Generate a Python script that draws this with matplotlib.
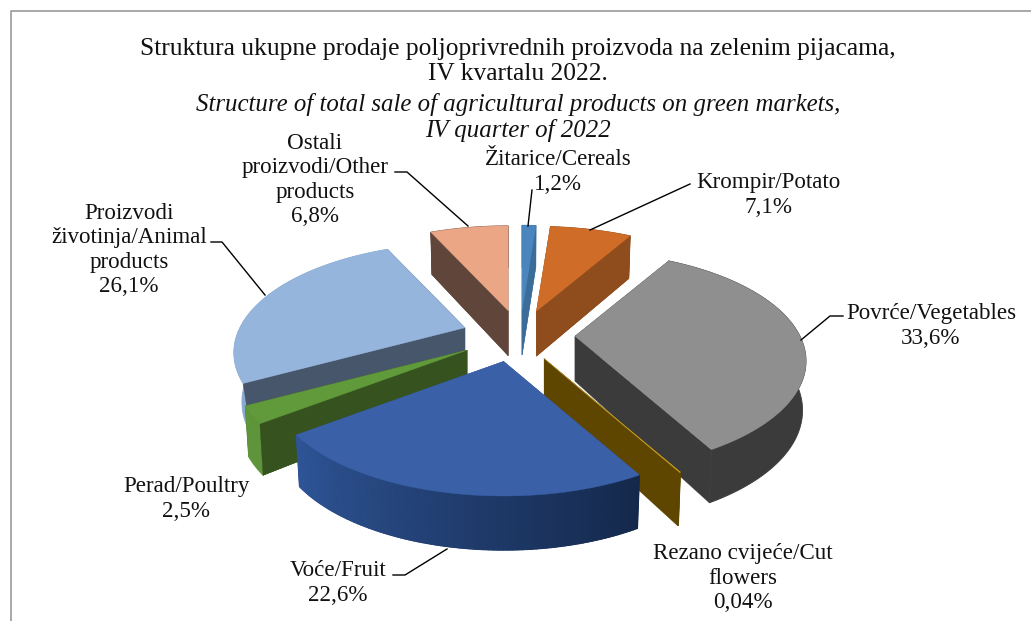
import numpy as np
import matplotlib.pyplot as plt
from matplotlib.patches import Polygon
from matplotlib.colors import to_rgb

plt.rcParams['font.family'] = ['Liberation Serif', 'DejaVu Serif']

categories = ['Žitarice/Cereals', 'Krompir/Potato', 'Povrće/Vegetables', 'Rezano cvijeće/Cut\nflowers',
              'Voće/Fruit', 'Perad/Poultry', 'Proizvodi\nživotinja/Animal\nproducts', 'Ostali\nproizvodi/Other\nproducts']
values = [1.2, 7.1, 33.6, 0.04, 22.6, 2.5, 26.1, 6.8]
value_labels = ['1,2%', '7,1%', '33,6%', '0,04%', '22,6%', '2,5%', '26,1%', '6,8%']

title_lines = ['Struktura ukupne prodaje poljoprivrednih proizvoda na zelenim pijacama,',
               'IV kvartalu 2022.',
               'Structure of total sale of agricultural products on green markets,',
               'IV quarter of 2022']

top_colors = ['#4a86bd', '#cf6c27', '#8f8f8f', '#c9a227', '#3a60a8', '#619a3b', '#95b5dd', '#eba686']
cut_colors = ['#3b6d9b', '#8f4c1d', '#3b3b3b', '#5e4500', '#2f5597', '#36531f', '#47566b', '#60453a']
rim_colors = [('#3b6d9b', '#3b6d9b'), ('#8f4c1d', '#8f4c1d'), ('#3b3b3b', '#3b3b3b'), ('#5e4500', '#5e4500'),
              ('#14284b', '#2f5597'), ('#5f953a', '#5f953a'), ('#8aa9d0', '#8aa9d0'), ('#60453a', '#60453a')]

# pixel positions of labels (centre x, centre y of block)
label_pos = [(558, 172), (768, 195), (931, 326), (743, 578), (338, 583), (186, 499), (129, 250), (315, 180)]
leaders = [[(532, 190), (528, 226)],
           [(690, 184), (590, 230)],
           [(843, 316), (830, 316), (801, 340)],
           [(393, 575), (405, 575), (447, 549)],
           [(211, 242), (222, 242), (265, 295)],
           [(395, 172), (407, 172), (468, 226)]]

cx, cy = 520, 336
rx, ry, persp = 225, 104, 0.227
ex, ey = 56, 26   # explosion
shift_x = [0, 0, -1, -3, -5, -6, -2, 0]
taper = [0.985, 0.985, 0.985, 0.985, 0.985, 0.985, 0.965, 0.985]


def rim_point(theta):
    X, Y = np.sin(theta), np.cos(theta)
    w = 1 + persp * Y
    return rx * X / w, -ry * Y / w, 48 - 6 * Y


fig = plt.figure(figsize=(10.31, 6.21), dpi=100)
ax = fig.add_axes([0, 0, 1, 1])
ax.set_xlim(0, 1031)
ax.set_ylim(621, 0)
ax.axis('off')

# chart frame
ax.plot([10.5, 10.5, 1031], [621, 10.5, 10.5], color='#9a9a9a', lw=1.2)

total = sum(values)
edges = np.cumsum([0] + values) / total * 2 * np.pi
mids = (edges[:-1] + edges[1:]) / 2
order = np.argsort(-np.cos(mids))

for i in order:
    a0, a1 = edges[i], edges[i + 1]
    if a1 - a0 < 0.01:
        a1 = a0 + 0.004
    ax_x = cx + ex * np.sin(mids[i]) + shift_x[i]
    ax_y = cy - ey * np.cos(mids[i])
    th = np.linspace(a0, a1, max(3, int((a1 - a0) * 60)))
    dx, dy, d = rim_point(th)
    top_x, top_y = ax_x + dx, ax_y + dy
    bot_x, bot_y = ax_x + dx * taper[i], ax_y + dy + d

    # cut faces
    for j in [0, -1]:
        face = [(ax_x, ax_y), (top_x[j], top_y[j]), (bot_x[j], bot_y[j]), (ax_x, ax_y + 45)]
        ax.add_patch(Polygon(face, closed=True, fc=cut_colors[i], ec=cut_colors[i], lw=0.3, zorder=2))

    # outer rim, solid base first so the strips leave no seams
    c0, c1 = np.array(to_rgb(rim_colors[i][0])), np.array(to_rgb(rim_colors[i][1]))
    base = list(zip(top_x, top_y)) + list(zip(bot_x[::-1], bot_y[::-1]))
    ax.add_patch(Polygon(base, closed=True, fc=(c0 + c1) / 2, ec=(c0 + c1) / 2, lw=0.6, zorder=2))
    if rim_colors[i][0] != rim_colors[i][1]:
        for k in np.argsort(-np.cos(th[:-1])):
            col = c0 + (c1 - c0) * k / max(1, len(th) - 2)
            quad = [(top_x[k], top_y[k]), (top_x[k + 1], top_y[k + 1]), (bot_x[k + 1], bot_y[k + 1]), (bot_x[k], bot_y[k])]
            ax.add_patch(Polygon(quad, closed=True, fc=col, ec=col, lw=1.0, zorder=2))

    # visible cut face goes over the rim when the slice sits at the back
    if np.cos(mids[i]) > 0 or i == 5:
        j = 0 if np.sin(mids[i]) < 0 else -1
        face = [(ax_x, ax_y), (top_x[j], top_y[j]), (bot_x[j], bot_y[j]), (ax_x, ax_y + 45)]
        ax.add_patch(Polygon(face, closed=True, fc=cut_colors[i], ec=cut_colors[i], lw=0.3, zorder=2))

    pts = [(ax_x, ax_y)] + list(zip(top_x, top_y))
    ax.add_patch(Polygon(pts, closed=True, fc=top_colors[i], ec=top_colors[i], lw=0.3, zorder=2))

for line in leaders:
    xs, ys = zip(*line)
    ax.plot(xs, ys, color='black', lw=1.0, zorder=3)

for (lx, ly), cat, val in zip(label_pos, categories, value_labels):
    ax.text(lx, ly, cat + '\n' + val, ha='center', va='center', fontsize=16.6, linespacing=1.19, color='#111111', zorder=4)

for y, line, style, size in zip([49, 74, 104, 131], title_lines, ['normal', 'normal', 'italic', 'italic'], [18.4, 18.4, 17.9, 17.9]):
    ax.text(518, y, line, ha='center', va='center', fontsize=size, style=style, color='#111111', zorder=4)

fig.savefig('out.png', dpi=100)
